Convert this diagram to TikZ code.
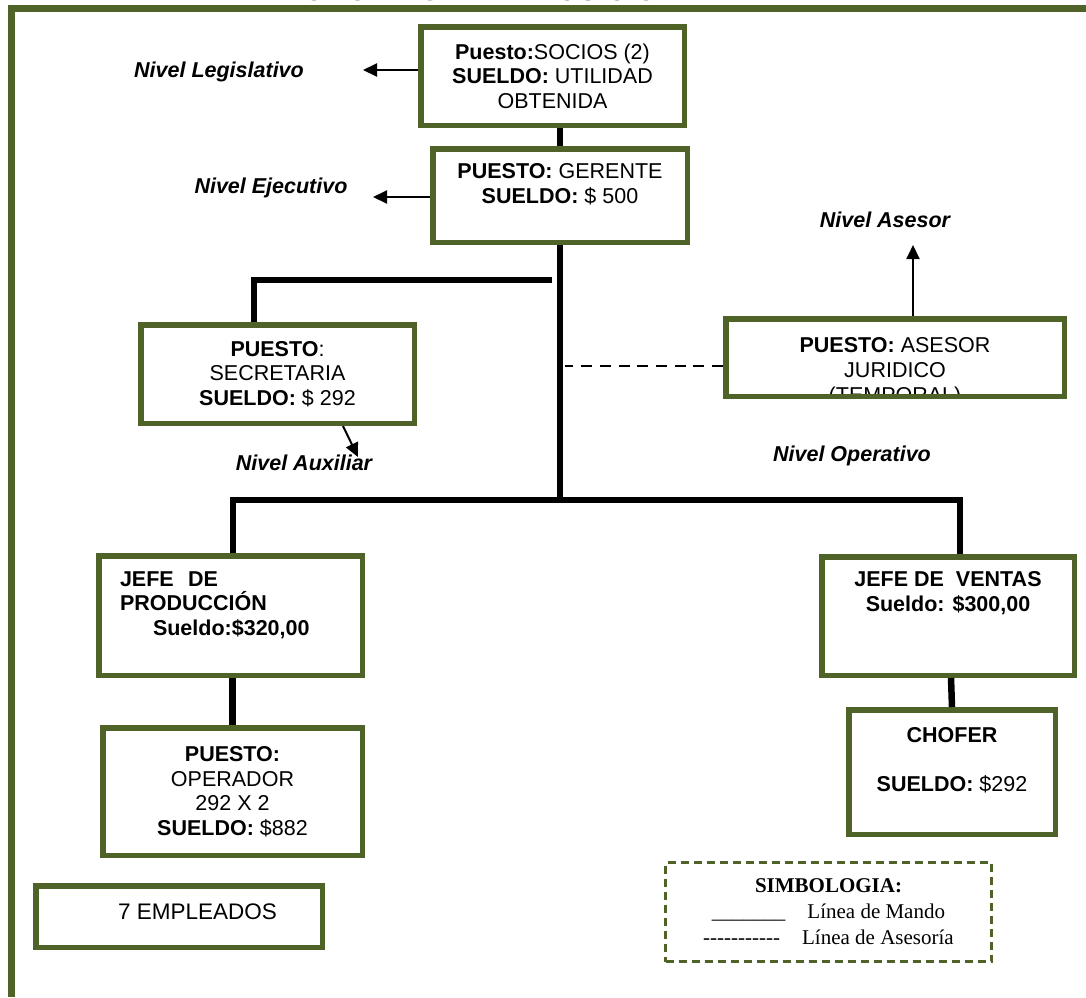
\documentclass[tikz,border=0pt]{standalone}
\usepackage{fontspec}
\setmainfont{Liberation Sans}
\newfontfamily\romana{Liberation Serif}
\usetikzlibrary{arrows.meta}
\definecolor{oliva}{HTML}{4F6228}

\begin{document}
\begin{tikzpicture}[x=1pt,y=-1pt,
  caja/.style={draw=oliva,line width=5.5pt,inner sep=0pt,align=center,font=\fontsize{21.5}{24.5}\selectfont},
  mando/.style={line width=6.5pt},
  asesoria/.style={line width=2.5pt,dash pattern=on 11pt off 7.7pt},
  flecha/.style={line width=2pt,-{Triangle[length=14pt,width=13pt]}},
  nivel/.style={font=\fontsize{21.5}{24.5}\selectfont\bfseries\itshape}]
\useasboundingbox (0,0) rectangle (1086,997);
\clip (0,0) rectangle (1086,997);
%\draw[help lines] (0,0) grid[step=50] (1086,997);

\node[font=\fontsize{29}{32}\selectfont\bfseries,anchor=base] (titulo) at (510,0.5) {ORGANIGRAMA POSICIONAL};
\draw[oliva,line width=7pt] (1086,8.5) -- (11.5,8.5) -- (11.5,997);

\node[caja,minimum width=263.5pt,minimum height=98.5pt] (socios) at (552.5,76) {\textbf{Puesto:}SOCIOS (2)\\\textbf{SUELDO:} UTILIDAD\\OBTENIDA};
\node[caja,minimum width=254.5pt,minimum height=93.5pt] (gerente) at (560,195.5) {\textbf{PUESTO:} GERENTE\\\textbf{SUELDO:} \$ 500\\\mbox{}};
\node[caja,minimum width=273.5pt,minimum height=98.5pt] (secre) at (277.5,374) {\textbf{PUESTO}:\\SECRETARIA\\\textbf{SUELDO:} \$ 292};

% el texto del asesor queda cortado por la caja
\begin{scope}
\clip (728.5,321.5) rectangle (1061.5,393.5);
\node[font=\fontsize{21.5}{25}\selectfont,align=center] (asesortxt) at (895,372) {\textbf{PUESTO:} ASESOR\\JURIDICO\\(TEMPORAL)};
\end{scope}
\node[caja,minimum width=338.5pt,minimum height=77.5pt] (asesor) at (895,357.5) {};

\node[caja,minimum width=263.5pt,minimum height=119.5pt,text width=221pt,align=left,font=\fontsize{21.5}{24.5}\selectfont\bfseries] (jprod) at (230.5,615.5) {JEFE\ \ DE\\PRODUCCIÓN\\\hspace*{33pt}Sueldo:\$320,00\\\mbox{}};
\node[caja,minimum width=259.5pt,minimum height=127.5pt] (operador) at (232.5,791.5) {\textbf{PUESTO:}\\OPERADOR\\292 X 2\\\textbf{SUELDO:} \$882};
\node[caja,minimum width=252.5pt,minimum height=118.5pt,font=\fontsize{21.5}{24.5}\selectfont\bfseries] (jventas) at (948,616) {JEFE DE\ \ VENTAS\\Sueldo: \$300,00\\\mbox{}\\\mbox{}};
\node[caja,minimum width=206.5pt,minimum height=124.5pt] (chofer) at (952,772) {\textbf{CHOFER}\\\mbox{}\\\textbf{SUELDO:} \$292\\\mbox{}};
\node[caja,minimum width=286.5pt,minimum height=61.5pt,text depth=9pt,font=\fontsize{22.5}{26}\selectfont] (empleados) at (179,916.5) {\hspace*{37pt}7 EMPLEADOS};

\node[draw=oliva,line width=3pt,dash pattern=on 8pt off 5pt,minimum width=326pt,minimum height=99pt,inner sep=0pt,align=center,font=\romana\fontsize{21}{26}\selectfont] (simbologia) at (828.5,912) {\textbf{SIMBOLOGIA:}\\\_\_\_\_\_\_\_\hspace{22pt}Línea de Mando\\-{}-{}-{}-{}-{}-{}-{}-{}-{}-{}-\hspace{22pt}Línea de Asesoría};

\node[nivel] (legis) at (219,72) {Nivel Legislativo};
\node[nivel] (ejec) at (271,188) {Nivel Ejecutivo};
\node[nivel] (nasesor) at (885,220) {Nivel Asesor};
\node[nivel] (aux) at (304,463) {Nivel Auxiliar};
\node[nivel] (oper) at (852,456) {Nivel Operativo};

% lineas de mando
\coordinate (sec) at (254,280);
\coordinate (secfin) at (552,280);
\coordinate (bl) at (233,500);
\coordinate (br) at (960,500);
\draw[mando] (gerente.north) -- (gerente.north |- socios.south);
\draw[mando] (gerente.south) -- (gerente.south |- bl);
\draw[mando] (secre.north -| sec) -- (sec) -- (secfin);
\draw[mando] (jprod.north -| bl) -- (bl) -- (br) -- (jventas.north -| br);
\draw[mando] (operador.north) -- (operador.north |- jprod.south);
\draw[mando] ([xshift=3pt]jventas.south) -- (chofer.north);

% linea de asesoria
\draw[asesoria] ([yshift=-8.5pt]asesor.west) -- +(-158,0);

% flechas a los niveles
\draw[flecha] ([yshift=6pt]socios.west) -- +(-55,0);
\draw[flecha] ([yshift=-1.5pt]gerente.west) -- +(-57,0);
\draw[flecha] ([xshift=18pt]asesor.north) -- +(0,-71);
\draw[flecha] ([xshift=65.5pt]secre.south) -- +(15,31);
\end{tikzpicture}
\end{document}
